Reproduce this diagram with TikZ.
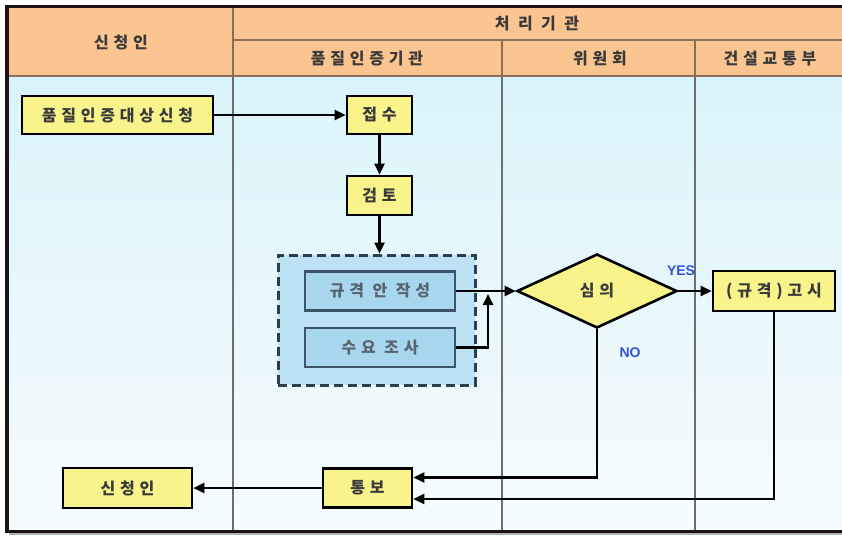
\documentclass[tikz,border=0pt]{standalone}
\usepackage{fontspec}
\usetikzlibrary{arrows.meta,shapes.geometric}
\newfontfamily\kr[LetterSpace=30]{Noto Sans CJK KR}
\newfontfamily\yn{Liberation Sans}
\definecolor{hdr}{HTML}{FAC590}
\definecolor{hdrline}{HTML}{8A6E58}
\definecolor{bodytop}{HTML}{DAF4FB}
\definecolor{bodymid}{HTML}{C0EEF9}
\definecolor{bodybot}{HTML}{F6FCFD}
\definecolor{frame}{HTML}{1C1414}
\definecolor{lane}{HTML}{6E6E6E}
\definecolor{ybox}{HTML}{F9F38C}
\definecolor{grpfill}{HTML}{BCE2F4}
\definecolor{grpdraw}{HTML}{2B3F4F}
\definecolor{infill}{HTML}{A8D6EE}
\definecolor{indraw}{HTML}{3B5566}
\definecolor{intext}{HTML}{56646E}
\definecolor{txt}{HTML}{3A3A3A}
\definecolor{ynblue}{HTML}{3350DD}
\begin{document}
\begin{tikzpicture}[x=1pt,y=-1pt,
  hdrtext/.style={font=\kr\bfseries\fontsize{16}{17}\selectfont, text=txt, inner sep=0pt},
  yboxst/.style={draw=black, line width=2.6pt, fill=ybox, rectangle, inner sep=0pt,
    font=\kr\bfseries\fontsize{16}{17}\selectfont, text=txt},
  inboxst/.style={draw=indraw, line width=2.2pt, fill=infill, rectangle, inner sep=0pt,
    minimum width=150pt, minimum height=39pt, font=\kr\bfseries\fontsize{16}{17}\selectfont, text=intext},
  grpst/.style={draw=grpdraw, line width=3pt, dash pattern=on 9pt off 5pt, fill=grpfill,
    rectangle, inner sep=0pt},
  arr/.style={draw=black, line width=2.4pt, -{Triangle[length=11pt,width=10pt]}},
  lbl/.style={font=\yn\bfseries\fontsize{14}{15}\selectfont, text=ynblue, inner sep=0pt}]
\useasboundingbox (0,0) rectangle (842,539);
\fill[white] (0,0) rectangle (842,539);
% body and header
\shade[top color=bodytop, middle color=bodymid, bottom color=bodybot] (9,76) rectangle (842,530);
\fill[hdr] (9,8) rectangle (842,76);
% lanes
\draw[lane, line width=1.1pt] (233,76) -- (233,530);
\draw[lane, line width=1.1pt] (502,76) -- (502,530);
\draw[lane, line width=1.1pt] (695,76) -- (695,530);
\draw[hdrline, line width=1.2pt] (233,8) -- (233,76);
\draw[hdrline, line width=1.2pt] (502,40) -- (502,76);
\draw[hdrline, line width=1.2pt] (695,40) -- (695,76);
\draw[hdrline, line width=1.2pt] (233,40) -- (842,40);
\draw[hdrline, line width=2pt] (9,76) -- (842,76);
% frame
\draw[gray!60, line width=2pt] (9,534) -- (842,534);
\draw[frame, line width=3pt] (5,6) -- (842,6);
\draw[frame, line width=3.5pt] (7,5) -- (7,532);
\draw[frame, line width=3pt] (5,531) -- (842,531);
% header texts
\node[hdrtext] (h1) at (121,42) {신청인};
\node[hdrtext] (h2) at (537,23.5) {처 리 기 관};
\node[hdrtext] (h3) at (367,58.5) {품질인증기관};
\node[hdrtext] (h4) at (600,58.5) {위원회};
\node[hdrtext] (h5) at (770,58.5) {건설교통부};
% nodes
\node[yboxst, minimum width=191pt, minimum height=38pt] (apply) at (117.5,115) {품질인증대상신청};
\node[yboxst, minimum width=65pt, minimum height=38pt] (recv) at (379.5,115) {접수};
\node[yboxst, minimum width=65pt, minimum height=39pt] (rev) at (379.5,195.5) {검토};
\node[grpst, minimum width=197pt, minimum height=130pt] (grp) at (376.5,320) {};
\node[inboxst] (draft) at (380,291) {규격 안 작성};
\node[inboxst] (survey) at (380,347.5) {수요 조사};
\node[diamond, draw=black, line width=2.6pt, fill=ybox, inner sep=0pt,
  minimum width=160pt, minimum height=74pt, font=\kr\bfseries\fontsize{16}{17}\selectfont, text=txt] (dia) at (597,291) {심의};
\node[yboxst, minimum width=122pt, minimum height=40pt] (notice) at (774,291) {(규격)고시};
\node[yboxst, minimum width=129pt, minimum height=40pt] (req2) at (127.5,488) {신청인};
\node[yboxst, minimum width=89pt, minimum height=39pt] (notify) at (367.5,488) {통보};
\node[lbl] (yes) at (681,271) {YES};
\node[lbl] (no) at (630,353) {NO};
\coordinate (jn) at (488,294);
% connectors
\draw[arr] (apply.east) -- (recv.west);
\draw[arr] (recv) -- (rev);
\draw[arr] (rev) -- (rev |- grp.north);
\draw[arr] (draft.east) -- (dia.west);
\draw[arr] (survey.east) -| (jn);
\draw[arr] (dia.east) -- (notice.west);
\draw[arr] (dia.south) |- ([yshift=10.5pt]notify.east);
\draw[arr] (notice.south) |- ([yshift=-11pt]notify.east);
\draw[arr] (notify.west) -- (req2.east);
\end{tikzpicture}
\end{document}
